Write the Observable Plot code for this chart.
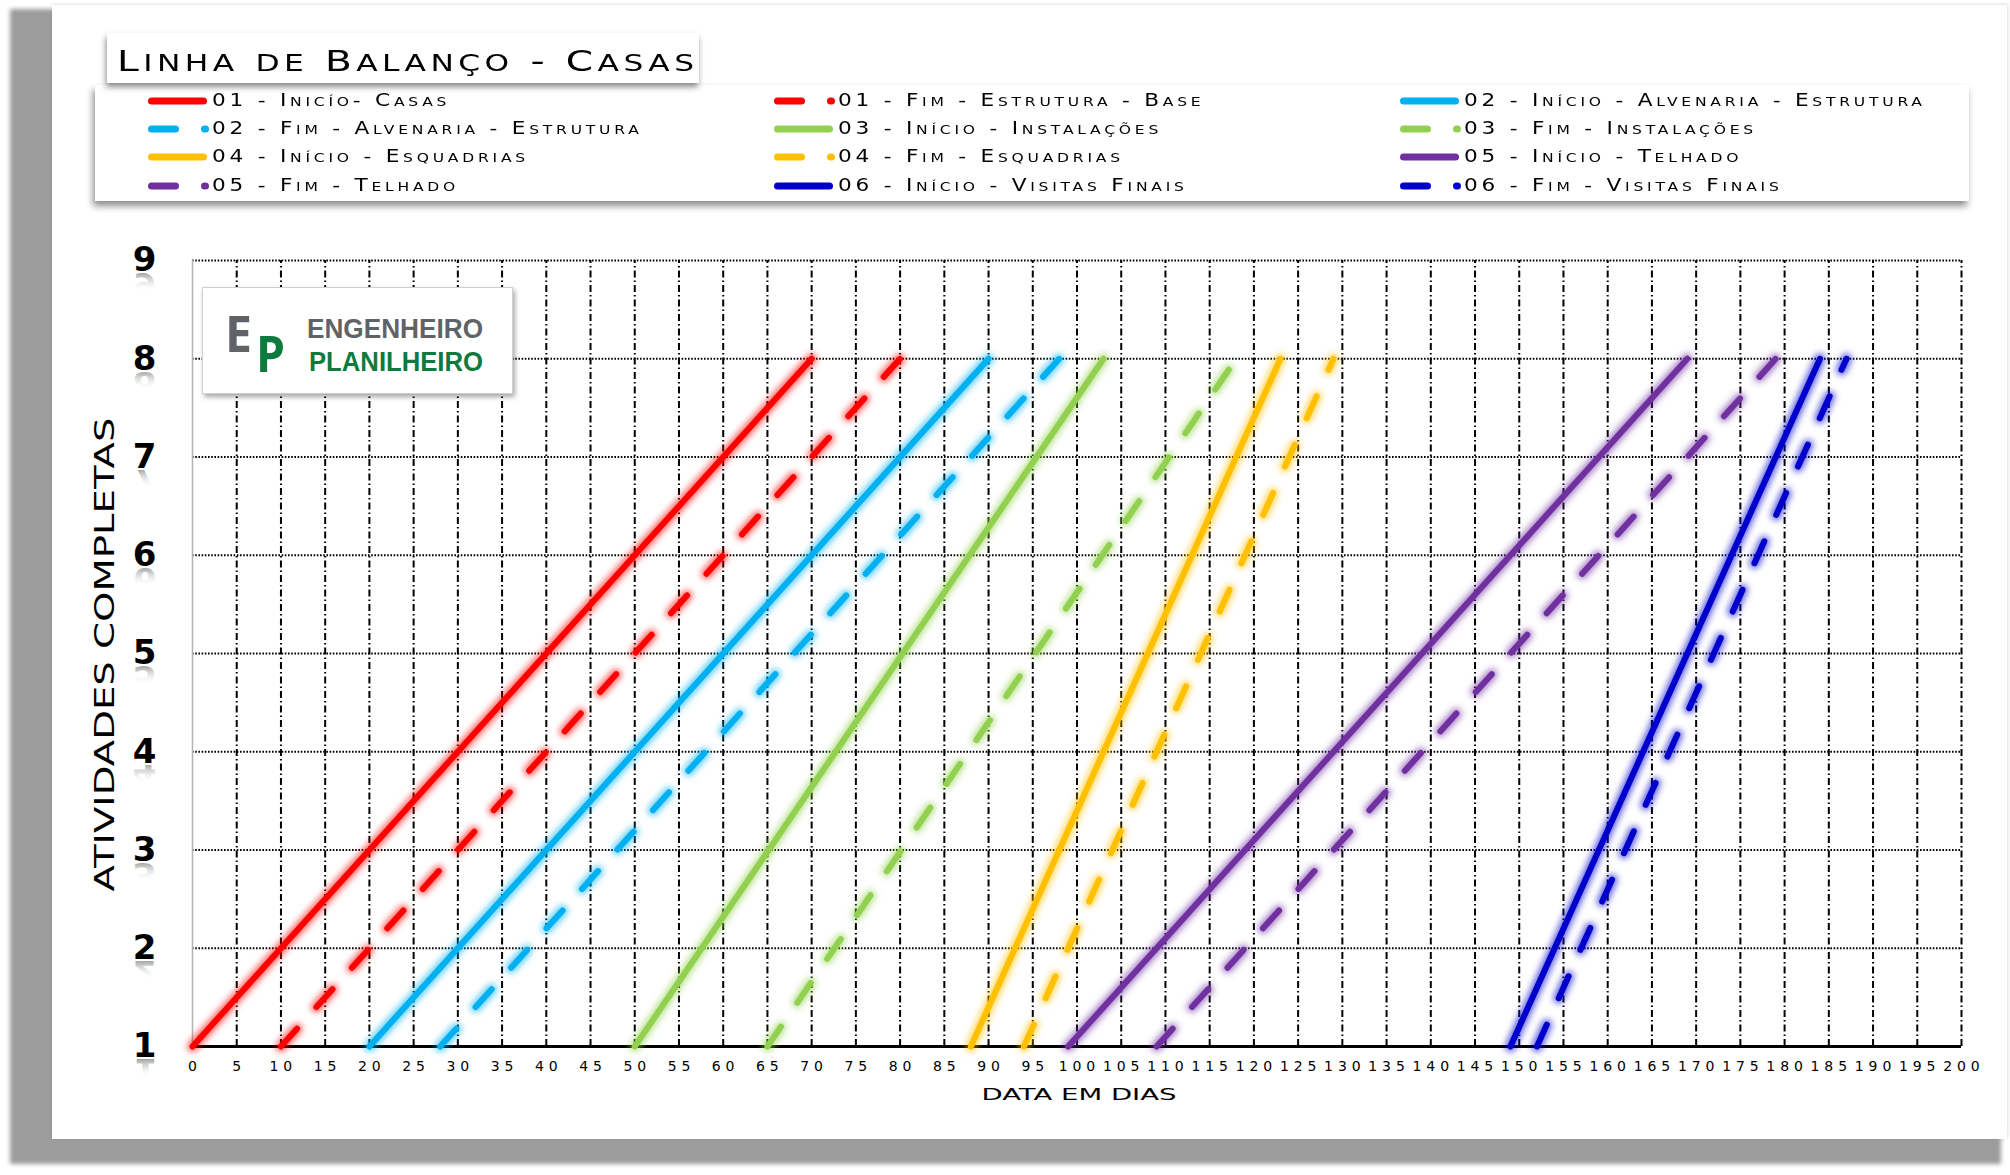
<!DOCTYPE html>
<html lang="pt-BR">
<head>
<meta charset="utf-8">
<title>Linha de Balanço - Casas</title>
<script src="https://cdn.jsdelivr.net/npm/d3@7"></script>
<script src="https://cdn.jsdelivr.net/npm/@observablehq/plot@0.6"></script>
<style>
html,body{margin:0;padding:0;background:#fff;overflow:hidden;}
#page{position:relative;width:2010px;height:1175px;overflow:hidden;font-family:"DejaVu Sans",sans-serif;color:#000;}
#shadow{position:absolute;left:10px;top:9px;width:1991px;height:1155px;background:#9c9c9c;filter:blur(2px);}
#card{position:absolute;left:52px;top:5px;width:1955px;height:1134px;background:#fff;box-shadow:1px -1px 3px rgba(0,0,0,0.12);}
#chart{position:absolute;left:0;top:220px;}
#logo{position:absolute;left:202px;top:287px;width:309px;height:105px;background:#fff;border:1px solid #cfcfcf;box-shadow:2px 3px 5px rgba(0,0,0,0.35);}
#legend{position:absolute;left:95px;top:85px;width:1874px;height:116px;background:#fff;box-shadow:-2px 5px 7px rgba(0,0,0,0.45);}
#title{position:absolute;left:107px;top:33px;width:592px;height:50px;background:#fff;box-shadow:-1px 4px 6px rgba(0,0,0,0.45);}
#title span.t{position:absolute;left:10px;top:13.5px;font-size:29px;line-height:29px;white-space:nowrap;display:inline-block;transform-origin:0 50%;}
.item{position:absolute;height:20px;display:flex;align-items:center;white-space:nowrap;}
.item svg{display:block;flex:none;}
.item span.t{font-size:18px;line-height:20px;white-space:nowrap;display:inline-block;transform-origin:0 50%;}
</style>
</head>
<body>
<div id="page">
  <div id="shadow"></div>
  <div id="card"></div>
  <div id="chart"></div>
  <div id="logo"></div>
  <div id="legend"></div>
  <div id="title"><span class="t"></span></div>
</div>
<script>
// ---------------- data ----------------
const chartTitle = "Linha de Balanço - Casas";
const xLabel = "Data em dias";
const yLabel = "Atividades completas";
const series = [
  "01 - Inicío- Casas",
  "01 - Fim - Estrutura - Base",
  "02 - Início - Alvenaria - Estrutura",
  "02 - Fim - Alvenaria - Estrutura",
  "03 - Início - Instalações",
  "03 - Fim - Instalações",
  "04 - Início - Esquadrias",
  "04 - Fim - Esquadrias",
  "05 - Início - Telhado",
  "05 - Fim - Telhado",
  "06 - Início - Visitas Finais",
  "06 - Fim - Visitas Finais"
];
const seriesColor = ["#ff0000","#ff0000","#00b0f0","#00b0f0","#92d050","#92d050",
                     "#ffc000","#ffc000","#7030a0","#7030a0","#0000cc","#0000cc"];
const seriesDashed = [false,true,false,true,false,true,false,true,false,true,false,true];
const startDay  = [0, 10, 20, 28, 50, 65, 88, 94, 99, 109, 149, 152];
const endDay    = [70, 80, 90, 98, 103, 118, 123, 129, 169, 179, 184, 187];
const startUnit = [1,1,1,1,1,1,1,1,1,1,1,1];
const endUnit   = [8,8,8,8,8,8,8,8,8,8,8,8];
const xTicks = [0,5,10,15,20,25,30,35,40,45,50,55,60,65,70,75,80,85,90,95,100,
                105,110,115,120,125,130,135,140,145,150,155,160,165,170,175,180,185,190,195,200];
const yTicks = [1,2,3,4,5,6,7,8,9];
const logoTexts = ["E","P","ENGENHEIRO","PLANILHEIRO"];

// ---------------- table ----------------
const rows = series.flatMap((s, i) => [
  {s, day: startDay[i], unit: startUnit[i], dashed: seriesDashed[i]},
  {s, day: endDay[i],   unit: endUnit[i],   dashed: seriesDashed[i]}
]);
const solidRows = rows.filter(d => !d.dashed);
const dashedRows = rows.filter(d => d.dashed);
const DASH = "24,29";

const plot = Plot.plot({
  width: 2010, height: 920,
  marginLeft: 192, marginRight: 49, marginTop: 40, marginBottom: 94,
  style: {background: "transparent", fontFamily: "'DejaVu Sans', sans-serif", color: "#000", overflow: "visible"},
  x: {domain: [0, 200]},
  y: {domain: [1, 9]},
  color: {domain: series, range: seriesColor},
  marks: [
    Plot.ruleY(yTicks.slice(1), {x1: 0, x2: 200, stroke: "#000", strokeWidth: 2, strokeDasharray: "1.6,1.6"}),
    Plot.ruleX(xTicks.slice(1), {y1: 1, y2: 9, stroke: "#000", strokeWidth: 2, strokeDasharray: "7,3,1.5,3"}),
    Plot.ruleX([0], {y1: 1, y2: 9, stroke: "#b4b4b4", strokeWidth: 1.5}),
    Plot.ruleY([1], {x1: 0, x2: 200, stroke: "#000", strokeWidth: 3}),
    // glow layers
    Plot.line(solidRows, {x: "day", y: "unit", z: "s", stroke: "s", strokeWidth: 11, strokeOpacity: 0.6, strokeLinecap: "round"}),
    Plot.line(dashedRows, {x: "day", y: "unit", z: "s", stroke: "s", strokeWidth: 11, strokeOpacity: 0.6, strokeLinecap: "round", strokeDasharray: DASH}),
    // main lines
    Plot.line(solidRows, {x: "day", y: "unit", z: "s", stroke: "s", strokeWidth: 6, strokeLinecap: "round"}),
    Plot.line(dashedRows, {x: "day", y: "unit", z: "s", stroke: "s", strokeWidth: 6, strokeLinecap: "round", strokeDasharray: DASH}),
    Plot.axisX({ticks: xTicks, tickSize: 0, tickPadding: 15, fontSize: 14, label: null}),
    Plot.axisY({ticks: yTicks, tickSize: 0, tickPadding: 36, fontSize: 34, fontWeight: "bold", label: null}),
    Plot.text([xLabel.toUpperCase()], {text: d => d, frameAnchor: "bottom", textAnchor: "start", dx: -95.5, dy: 53.7, fontSize: 15}),
    Plot.text([yLabel.toUpperCase()], {text: d => d, frameAnchor: "left", textAnchor: "start", dx: -87.3, dy: 238, rotate: -90, fontSize: 26})
  ]
});
document.getElementById("chart").appendChild(plot);

// ---------------- post styling ----------------
const svg = d3.select(plot);
const defs = svg.append("defs");
defs.append("filter").attr("id", "glow").attr("x", "-10%").attr("y", "-10%").attr("width", "120%").attr("height", "120%")
  .append("feGaussianBlur").attr("stdDeviation", 3);
const grad = defs.append("linearGradient").attr("id", "refl").attr("x1", 0).attr("y1", 0).attr("x2", 0).attr("y2", 1);
grad.append("stop").attr("offset", 0.35).attr("stop-color", "#ffffff").attr("stop-opacity", 0);
grad.append("stop").attr("offset", 0.8).attr("stop-color", "#888888").attr("stop-opacity", 0.75);

const lineGroups = plot.querySelectorAll('g[aria-label="line"]');
lineGroups[0].setAttribute("filter", "url(#glow)");
lineGroups[1].setAttribute("filter", "url(#glow)");

plot.querySelectorAll('g[aria-label="x-axis tick label"] text').forEach(t => {
  const n = t.textContent.length;
  if (n > 1) { t.setAttribute("textLength", n * 8.9 + (n - 1) * 4.9); t.setAttribute("lengthAdjust", "spacing"); }
});
const titleTexts = plot.querySelectorAll('g[aria-label="text"] text');
titleTexts[0].setAttribute("textLength", 195); titleTexts[0].setAttribute("lengthAdjust", "spacingAndGlyphs");
titleTexts[1].setAttribute("textLength", 474); titleTexts[1].setAttribute("lengthAdjust", "spacingAndGlyphs");

// reflections of the y tick labels (mirrored <use> copies)
const ys = plot.scale("y");
const yLabelGroup = plot.querySelector('g[aria-label="y-axis tick label"]');
yLabelGroup.setAttribute("font-weight", "bold");
yLabelGroup.setAttribute("font-size", 34);
const wrap = svg.append("g").attr("aria-hidden", "true")
  .attr("transform", yLabelGroup.getAttribute("transform") || null)
  .attr("font-size", 34).attr("font-weight", "bold").attr("text-anchor", "end")
  .attr("font-family", "'DejaVu Sans', sans-serif").attr("fill", "url(#refl)");
yLabelGroup.querySelectorAll("text").forEach((t, i) => {
  t.setAttribute("id", "ytl" + i);
  const v = +t.textContent;
  const b = ys.apply(v) + 0.32 * 34;
  wrap.append("use").attr("href", "#ytl" + i).attr("transform", `translate(0,${2 * b + 2}) scale(1,-1)`);
});

// ---------------- small-caps text helpers ----------------
function capsify(el, text, ratio) {
  el.textContent = "";
  let buf = "", lower = null;
  const flush = () => {
    if (!buf) return;
    if (lower) {
      const s = document.createElement("span");
      s.style.fontSize = ratio + "em";
      s.style.textTransform = "uppercase";
      s.textContent = buf;
      el.appendChild(s);
    } else el.appendChild(document.createTextNode(buf));
    buf = "";
  };
  for (const ch of text) {
    const isLower = ch !== ch.toUpperCase();
    if (lower !== null && isLower !== lower) flush();
    lower = isLower; buf += ch;
  }
  flush();
}
function fit(el, target, scale) {
  el.style.letterSpacing = "0px";
  el.style.transform = "none";
  const w = el.getBoundingClientRect().width;
  const n = [...el.textContent].length;
  let s = scale, ls = (target / s - w) / (n - 1);
  if (ls < 0) { ls = 0; s = target / w; }
  return {s, ls};
}
function apply(el, f) {
  el.style.letterSpacing = f.ls + "px";
  el.style.transform = `scaleX(${f.s})`;
}

// ---------------- title ----------------
const tSpan = document.querySelector("#title span.t");
capsify(tSpan, chartTitle, 0.8);
apply(tSpan, fit(tSpan, 577, 1.35));

// ---------------- legend ----------------
const legend = document.getElementById("legend");
const colX = [53, 679, 1305], rowY = [16, 44, 72, 100.5];
const spans = [];
series.forEach((s, i) => {
  const item = document.createElement("div");
  item.className = "item";
  item.style.left = colX[i % 3] + "px";
  item.style.top = (rowY[Math.floor(i / 3)] - 10) + "px";
  const sw = d3.create("svg").attr("width", 64).attr("height", 12);
  sw.append("line").attr("x1", 3.5).attr("x2", seriesDashed[i] ? 57.5 : 55.5).attr("y1", 6).attr("y2", 6)
    .attr("stroke", seriesColor[i]).attr("stroke-width", 7).attr("stroke-linecap", "round")
    .attr("stroke-dasharray", seriesDashed[i] ? DASH : null);
  item.appendChild(sw.node());
  const sp = document.createElement("span");
  sp.className = "t";
  capsify(sp, s, 0.72);
  item.appendChild(sp);
  legend.appendChild(item);
  spans.push(sp);
});
const lf = fit(spans[2], 458, 1.2);
spans.forEach(sp => apply(sp, lf));

// ---------------- logo ----------------
const logo = d3.create("svg").attr("width", 309).attr("height", 105).attr("font-weight", 700);
logo.append("text").attr("x", 22).attr("y", 64).attr("font-size", 50).attr("fill", "#5f6368")
  .attr("font-family", "'Open Sans', 'DejaVu Sans', sans-serif")
  .attr("textLength", 27).attr("lengthAdjust", "spacingAndGlyphs").text(logoTexts[0]);
logo.append("text").attr("x", 53).attr("y", 84).attr("font-size", 51).attr("fill", "#0f7a3d")
  .attr("font-family", "'Open Sans', 'DejaVu Sans', sans-serif")
  .attr("textLength", 29).attr("lengthAdjust", "spacingAndGlyphs").text(logoTexts[1]);
logo.append("text").attr("x", 104).attr("y", 50).attr("font-size", 27).attr("fill", "#5f6368")
  .attr("font-family", "'Liberation Sans', sans-serif")
  .attr("textLength", 176).attr("lengthAdjust", "spacingAndGlyphs").text(logoTexts[2]);
logo.append("text").attr("x", 106).attr("y", 83).attr("font-size", 27).attr("fill", "#0f7a3d")
  .attr("font-family", "'Liberation Sans', sans-serif")
  .attr("textLength", 174).attr("lengthAdjust", "spacingAndGlyphs").text(logoTexts[3]);
document.getElementById("logo").appendChild(logo.node());
</script>
</body>
</html>
